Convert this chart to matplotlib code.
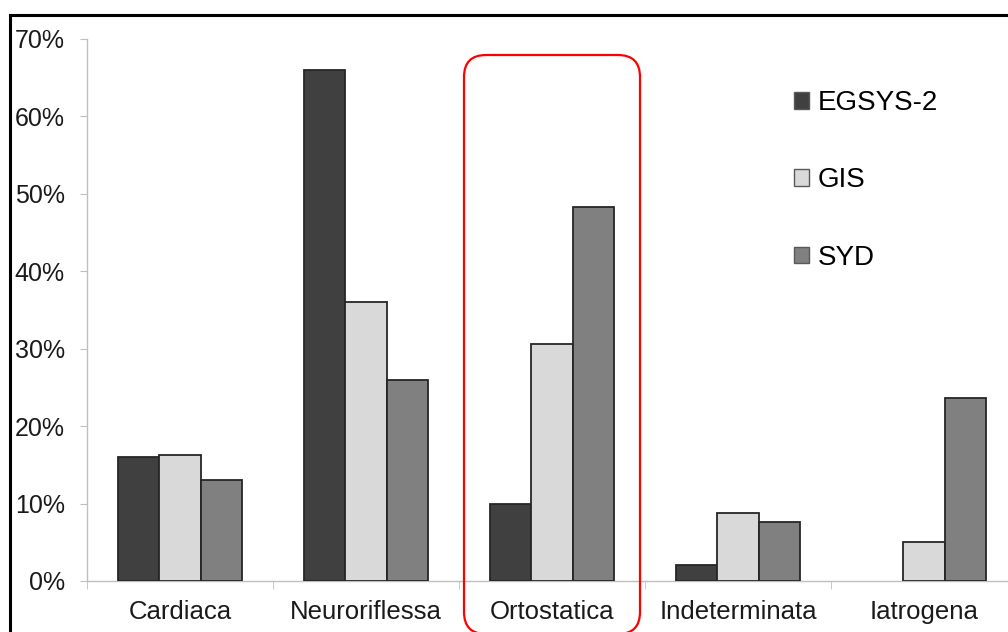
import matplotlib.pyplot as plt
import numpy as np
from matplotlib.patches import FancyBboxPatch, Patch
from matplotlib.lines import Line2D
from matplotlib.transforms import IdentityTransform
from matplotlib.ticker import FuncFormatter

plt.rcParams['font.family'] = ['Liberation Sans', 'DejaVu Sans']

# ── Dati ─────────────────────────────────────────────────────────────────────
categorie = ['Cardiaca', 'Neuroriflessa', 'Ortostatica', 'Indeterminata', 'Iatrogena']
egsys2 = [16.0, 66.0, 10.0, 2.1, 0.0]
gis = [16.3, 36.0, 30.6, 8.8, 5.0]
syd = [13.0, 26.0, 48.3, 7.6, 23.6]
serie = ['EGSYS-2', 'GIS', 'SYD']
colori = ['#404040', '#d9d9d9', '#808080']

# ── Figura ───────────────────────────────────────────────────────────────────
fig = plt.figure(figsize=(10.08, 6.32), dpi=100)
ax = fig.add_axes([0.0863, 0.0807, 0.9226, 0.8576])

x = np.arange(len(categorie))
w = 0.223
for i, (vals, col, nome) in enumerate(zip([egsys2, gis, syd], colori, serie)):
    vals = np.array(vals)
    pos = vals > 0  # le barre a zero non vengono disegnate
    ax.bar(x[pos] + (i - 1) * w, vals[pos], width=w, color=col, edgecolor='#262626',
           linewidth=1.3, label=nome, zorder=3)

ax.set_xlim(-0.5, len(categorie) - 0.5)
ax.set_ylim(0, 70)
ax.set_yticks(range(0, 71, 10))
ax.yaxis.set_major_formatter(FuncFormatter(lambda v, p: f'{v:.0f}%'))
ax.set_xticks(x)
ax.set_xticklabels(categorie)
ax.set_xticks(np.arange(-0.5, len(categorie), 1), minor=True)

for s in ['top', 'right']:
    ax.spines[s].set_visible(False)
for s in ['left', 'bottom']:
    ax.spines[s].set_color('#bfbfbf')
    ax.spines[s].set_linewidth(1.0)

ax.tick_params(axis='y', which='major', length=5, color='#bfbfbf',
               labelsize=18, labelcolor='#1a1a1a', pad=11)
ax.tick_params(axis='x', which='major', length=0, labelsize=18.5,
               labelcolor='#1a1a1a', pad=14)
ax.tick_params(axis='x', which='minor', length=6, color='#bfbfbf')

maniglie = [Patch(facecolor=c, edgecolor='#595959', linewidth=1.0) for c in colori]
ax.legend(maniglie, serie, loc='upper left', bbox_to_anchor=(0.733, 0.952),
          frameon=False, fontsize=20, handlelength=0.55, handleheight=0.55,
          handletextpad=0.3, labelspacing=1.85)

# Cornice esterna (solo lati superiore e sinistro)
fig.add_artist(Line2D([10 / 1008, 1.0], [1 - 15 / 632, 1 - 15 / 632],
                      transform=fig.transFigure, color='black', linewidth=2.2))
fig.add_artist(Line2D([10 / 1008, 10 / 1008], [0, 1 - 15 / 632],
                      transform=fig.transFigure, color='black', linewidth=2.2))

# Riquadro rosso evidenziato attorno a "Ortostatica"
riquadro = FancyBboxPatch((464, -2), 176, 579, boxstyle='round,pad=0,rounding_size=22',
                          transform=IdentityTransform(), facecolor='none',
                          edgecolor='#ff0000', linewidth=1.6, clip_on=False, zorder=5)
fig.add_artist(riquadro)

fig.savefig('out.png', dpi=100)
